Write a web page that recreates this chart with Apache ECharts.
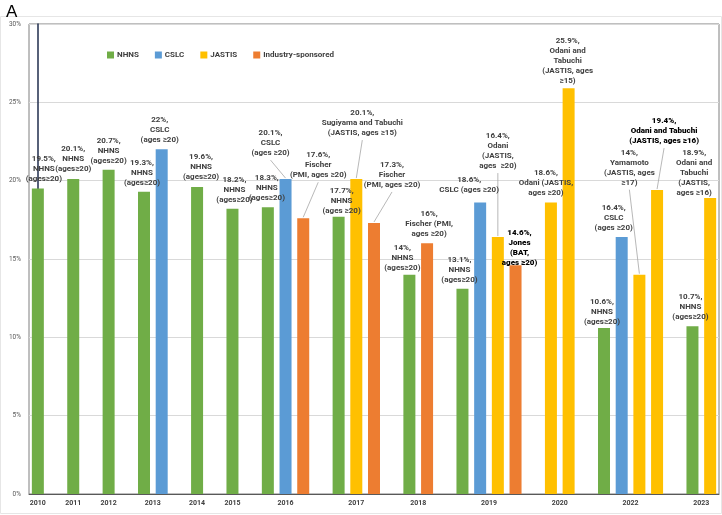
<!DOCTYPE html>
<html>
<head>
<meta charset="utf-8">
<script src="https://cdn.jsdelivr.net/npm/echarts@6/dist/echarts.min.js"></script>
<style>
  html, body { margin: 0; padding: 0; background: #fff; }
  #smokingRate { width: 722px; height: 515px; }
</style>
</head>
<body>
<div id="smokingRate"></div>
<script>
// survey years on the x axis (2021 has no data)
const years = ['2010', '2011', '2012', '2013', '2014', '2015', '2016', '2017', '2018', '2019', '2020', '2022', '2023'];
const sources = ['NHNS', 'CSLC', 'JASTIS', 'Industry-sponsored'];
const sourceColors = ['#70AD47', '#5B9BD5', '#FFC000', '#ED7D31'];

// one entry per bar, left to right
const barYear = ['2010', '2011', '2012', '2013', '2013', '2014', '2015', '2016', '2016', '2016',
  '2017', '2017', '2017', '2018', '2018', '2019', '2019', '2019', '2019', '2020', '2020',
  '2022', '2022', '2022', '2022', '2023', '2023'];
const barSource = ['NHNS', 'NHNS', 'NHNS', 'NHNS', 'CSLC', 'NHNS', 'NHNS', 'NHNS', 'CSLC', 'Industry-sponsored',
  'NHNS', 'JASTIS', 'Industry-sponsored', 'NHNS', 'Industry-sponsored', 'NHNS', 'CSLC', 'JASTIS', 'Industry-sponsored',
  'JASTIS', 'JASTIS', 'NHNS', 'CSLC', 'JASTIS', 'JASTIS', 'NHNS', 'JASTIS'];
const barValue = [19.5, 20.1, 20.7, 19.3, 22, 19.6, 18.2, 18.3, 20.1, 17.6,
  17.7, 20.1, 17.3, 14, 16, 13.1, 18.6, 16.4, 14.6, 18.6, 25.9,
  10.6, 16.4, 14, 19.4, 10.7, 18.9];
const barNote = [
  'NHNS\n(ages≥20)', 'NHNS\n(ages≥20)', 'NHNS\n(ages≥20)', 'NHNS\n(ages≥20)', 'CSLC\n(ages ≥20)',
  'NHNS\n(ages≥20)', 'NHNS\n(ages≥20)', 'NHNS\n(ages≥20)', 'CSLC\n(ages ≥20)', 'Fischer\n(PMI, ages ≥20)',
  'NHNS\n(ages ≥20)', 'Sugiyama and Tabuchi\n(JASTIS, ages ≥15)', 'Fischer\n(PMI, ages ≥20)',
  'NHNS\n(ages≥20)', 'Fischer (PMI,\nages ≥20)',
  'NHNS\n(ages≥20)', 'CSLC (ages ≥20)', 'Odani\n(JASTIS,\nages  ≥20)', 'Jones\n(BAT,\nages ≥20)',
  'Odani (JASTIS,\nages ≥20)', 'Odani and\nTabuchi\n(JASTIS, ages\n≥15)',
  'NHNS\n(ages≥20)', 'CSLC\n(ages ≥20)', 'Yamamoto\n(JASTIS, ages\n≥17)', 'Odani and Tabuchi\n(JASTIS, ages ≥16)',
  'NHNS\n(ages≥20)', 'Odani and\nTabuchi\n(JASTIS,\nages ≥16)'
];

// label nudges [dx, dy] in px, bars whose label has a guide line, bold labels
const labelShift = [[6, -1], [0, -1], [0, 0], [-2, 0], [-2, 0], [4, -1], [2, 0], [-1, 0], [-15, -17], [15, -34],
  [3, 3], [6, -37], [18, -29], [-7, 2], [2, 0], [-3, 0], [-11, -4], [0, -62], [4, 7], [-5, -1], [-1, 2],
  [-2, 3], [-8, 0], [-10, -83], [7, -40], [-2, 0], [-16, 4]];
const withLeader = [8, 9, 11, 12, 17, 23, 24];
const strongLabel = [18, 24];
const labelGap = 4;

// bar slots: one per bar, one empty slot between years
let slot = -1;
const barSlot = barYear.map((y, i) => {
  slot += (i > 0 && y !== barYear[i - 1]) ? 2 : 1;
  return slot;
});
const yearCenter = years.map(y => {
  const s = barSlot.filter((v, i) => barYear[i] === y);
  return (s[0] + s[s.length - 1]) / 2;
});

var labelFont = "Roboto, 'DejaVu Sans Condensed', sans-serif";

var series = sources.map((src, k) => ({
  name: src,
  type: 'bar',
  barWidth: 12,
  barGap: '-100%',
  itemStyle: { color: sourceColors[k] },
  label: {
    show: true,
    position: 'top',
    distance: labelGap,
    fontFamily: labelFont,
    fontSize: 8,
    lineHeight: 10,
    fontWeight: 'bold',
    color: '#404040'
  },
  data: barSource.map((s, i) => i).filter(i => barSource[i] === src).map(i => ({
    value: [barSlot[i], barValue[i]],
    label: Object.assign({
      formatter: barValue[i] + '%,\n' + barNote[i],
      offset: labelShift[i]
    }, strongLabel.indexOf(i) >= 0 ? { color: '#000', fontWeight: 900 } : {})
  }))
}));

// guide lines from moved labels down to their bars
series.push({
  name: 'leader',
  type: 'custom',
  silent: true,
  z: 1,
  encode: { x: 0, y: 1 },
  data: withLeader.map(i => [barSlot[i], barValue[i], labelShift[i][0], labelShift[i][1]]),
  renderItem: function (params, api) {
    var top = api.coord([api.value(0), api.value(1)]);
    return {
      type: 'line',
      shape: {
        x1: top[0] + api.value(2),
        y1: top[1] - labelGap + api.value(3) + 2,
        x2: top[0],
        y2: top[1] - 1
      },
      style: { stroke: '#a6a6a6', lineWidth: 0.8 }
    };
  }
});

var chartDom = document.getElementById('smokingRate');
var myChart = echarts.init(chartDom);
var option;

option = {
  animation: false,
  title: {
    text: 'A',
    left: 1,
    top: -1,
    textStyle: { fontFamily: 'Liberation Sans', fontSize: 17, fontWeight: 'normal', color: '#000' }
  },
  graphic: [{
    type: 'rect',
    z: -10,
    shape: { x: 0.5, y: 16.5, width: 721, height: 497 },
    style: { fill: 'none', stroke: '#e6e6e6', lineWidth: 1 }
  }],
  legend: {
    left: 102,
    top: 46,
    icon: 'rect',
    itemWidth: 7,
    itemHeight: 7,
    itemGap: 16,
    textStyle: { fontFamily: labelFont, fontSize: 8, fontWeight: 'bold', color: '#404040', padding: [0, 0, 0, -2] },
    data: sources
  },
  grid: {
    left: 29,
    right: 2,
    top: 24,
    bottom: 21,
    show: true,
    borderColor: '#7f7f7f',
    borderWidth: 1
  },
  xAxis: {
    type: 'value',
    min: -0.5,
    max: slot + 0.5,
    interval: 0.5,
    splitLine: { show: false },
    axisTick: { show: false },
    axisLine: { show: true, lineStyle: { color: '#595959', width: 1 } },
    axisLabel: {
      margin: 6,
      fontFamily: labelFont,
      fontSize: 7,
      fontWeight: 'bold',
      color: '#404040',
      showMinLabel: true,
      showMaxLabel: true,
      formatter: function (v) {
        var k = yearCenter.findIndex(c => Math.abs(c - v) < 0.01);
        return k >= 0 ? years[k] : '';
      }
    }
  },
  yAxis: {
    type: 'value',
    min: 0,
    max: 30,
    interval: 5,
    axisLine: { show: true, lineStyle: { color: '#1f2d4d', width: 1.5 } },
    axisTick: { show: false },
    splitLine: { lineStyle: { color: '#d9d9d9', width: 1 } },
    axisLabel: {
      margin: 8,
      fontFamily: labelFont,
      fontSize: 6.5,
      color: '#595959',
      formatter: '{value}%'
    }
  },
  series: series
};

option && myChart.setOption(option);
</script>
</body>
</html>
